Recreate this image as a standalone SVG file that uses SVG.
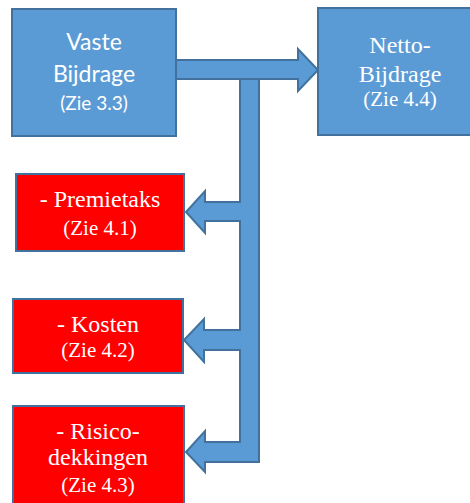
<svg xmlns="http://www.w3.org/2000/svg" width="470" height="503" viewBox="0 0 470 503">
  <style>
    .blue { fill: #5B9BD5; stroke: #41719C; stroke-width: 2; }
    .red { fill: #FF0000; stroke: #41719C; stroke-width: 2; }
    .lbl { fill: #FFFFFF; text-anchor: middle; }
  </style>
  <rect width="470" height="503" fill="#FFFFFF"/>

  <!-- block arrows -->
  <g id="connectors">
    <!-- right arrow to Netto-Bijdrage -->
    <path class="blue" d="M176,60 H298 V49 L318,70 L298,91 V79 H176 Z"/>
    <!-- vertical trunk with three left-pointing arrows -->
    <path class="blue" d="M240,79 H259 V462 H205 V472 L186,452 L205,431 V442 H240 V350 H204 V362 L184,340 L204,319 V330 H240 V221 H205 V233 L186,212 L205,191 V202 H240 Z"/>
  </g>

  <g id="vaste-bijdrage" font-family="Lato, 'Open Sans', sans-serif">
    <rect class="blue" x="12" y="9" width="164" height="127"/>
    <text class="lbl" x="94" y="50" font-size="23">Vaste</text>
    <text class="lbl" x="94" y="82" font-size="23">Bijdrage</text>
    <text class="lbl" x="94" y="110" font-size="19">(Zie 3.3)</text>
  </g>

  <g id="netto-bijdrage" font-family="'Liberation Serif', 'DejaVu Serif', serif">
    <rect class="blue" x="318" y="8" width="164" height="127"/>
    <text class="lbl" x="400" y="53" font-size="24">Netto-</text>
    <text class="lbl" x="400" y="82" font-size="24">Bijdrage</text>
    <text class="lbl" x="400" y="106" font-size="21">(Zie 4.4)</text>
  </g>

  <g id="premietaks" font-family="'Liberation Serif', 'DejaVu Serif', serif">
    <rect class="red" x="16" y="174" width="168" height="77"/>
    <text class="lbl" x="100" y="207" font-size="24">- Premietaks</text>
    <text class="lbl" x="100" y="235" font-size="21">(Zie 4.1)</text>
  </g>

  <g id="kosten" font-family="'Liberation Serif', 'DejaVu Serif', serif">
    <rect class="red" x="13" y="299" width="170" height="74"/>
    <text class="lbl" x="98" y="332" font-size="24">- Kosten</text>
    <text class="lbl" x="98" y="357" font-size="21">(Zie 4.2)</text>
  </g>

  <g id="risicodekkingen" font-family="'Liberation Serif', 'DejaVu Serif', serif">
    <rect class="red" x="13" y="406" width="171" height="110"/>
    <text class="lbl" x="98" y="439" font-size="24">- Risico-</text>
    <text class="lbl" x="98" y="465" font-size="24">dekkingen</text>
    <text class="lbl" x="98" y="492" font-size="21">(Zie 4.3)</text>
  </g>
</svg>
